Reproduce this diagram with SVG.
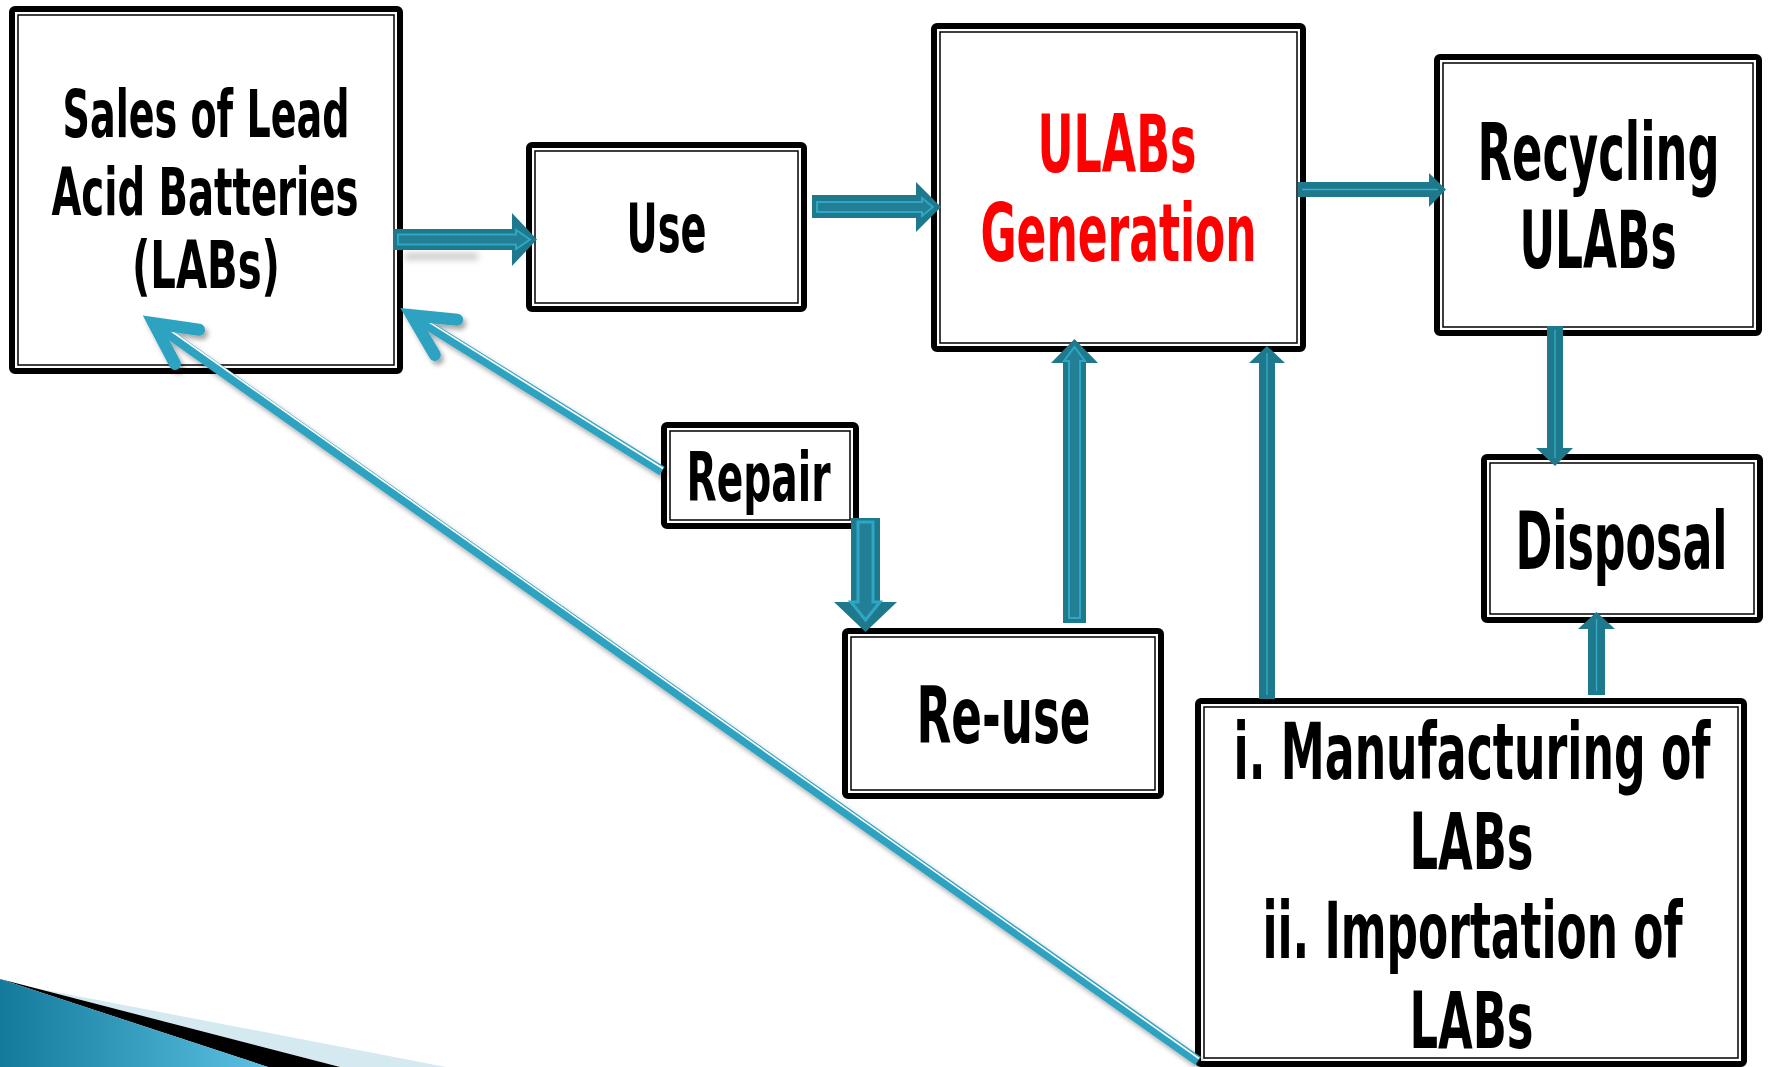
<svg xmlns="http://www.w3.org/2000/svg" width="1769" height="1067" viewBox="0 0 1769 1067">
  <defs>
    <style>
      .box-outer { fill: #ffffff; stroke: #000000; stroke-width: 6; }
      .box-inner { fill: none; stroke: #000000; stroke-width: 1.5; }
      .lbl { font-family: 'Liberation Sans Narrow', 'DejaVu Sans Condensed', 'Liberation Sans', Arial, sans-serif; font-weight: bold; text-anchor: middle; fill: #000000; }
      .red { fill: #ff0000; }
      .blk { fill: #1f798d; }
      .blk-in { fill: #227f95; stroke: #2ea6c4; stroke-width: 2; }
      .thin-in { fill: none; stroke: #35aecb; stroke-width: 1.3; }
      .diag { fill: none; stroke: #2ea3c1; stroke-width: 10; stroke-linecap: butt; }
      .diag-c { fill: none; stroke: #ffffff; stroke-width: 1.6; }
      .head { fill: none; stroke: #2ea3c1; stroke-width: 12; stroke-linecap: round; stroke-linejoin: miter; stroke-miterlimit: 10; }
    </style>
    <linearGradient id="swoosh" x1="0" y1="0" x2="1" y2="0">
      <stop offset="0" stop-color="#137a9b"/>
      <stop offset="1" stop-color="#5cc1e2"/>
    </linearGradient>
    <filter id="shadow" x="-10%" y="-10%" width="120%" height="120%">
      <feDropShadow dx="3" dy="4" stdDeviation="2.5" flood-color="#000000" flood-opacity="0.35"/>
    </filter>
    <filter id="soft" x="-20%" y="-200%" width="140%" height="500%">
      <feGaussianBlur stdDeviation="3"/>
    </filter>
  </defs>

  <rect x="0" y="0" width="1769" height="1067" fill="#ffffff"/>

  <!-- corner swoosh, bottom left -->
  <g id="swoosh-decoration">
    <path d="M30,987 L446,1067 L340,1067 Z" fill="#d5e9f1"/>
    <path d="M0,979 L340,1067 L268,1067 Z" fill="#000000"/>
    <path d="M0,979 L268,1067 L0,1067 Z" fill="url(#swoosh)"/>
  </g>

  <!-- nodes -->
  <g id="node-sales">
    <rect class="box-outer" x="12" y="9" width="388" height="362" rx="3"/>
    <rect class="box-inner" x="18" y="15" width="376" height="350"/>
    <text class="lbl" x="206" y="137" font-size="66" textLength="287" lengthAdjust="spacingAndGlyphs">Sales of Lead</text>
    <text class="lbl" x="205" y="215" font-size="66" textLength="307" lengthAdjust="spacingAndGlyphs">Acid Batteries</text>
    <text class="lbl" x="206" y="288" font-size="66" textLength="148" lengthAdjust="spacingAndGlyphs">(LABs)</text>
  </g>

  <g id="node-use">
    <rect class="box-outer" x="529" y="145" width="275" height="164" rx="3"/>
    <rect class="box-inner" x="535" y="151" width="263" height="152"/>
    <text class="lbl" x="666.5" y="252" font-size="68" textLength="80" lengthAdjust="spacingAndGlyphs">Use</text>
  </g>

  <g id="node-ulabs-generation">
    <rect class="box-outer" x="934" y="26" width="369" height="323" rx="3"/>
    <rect class="box-inner" x="940" y="32" width="357" height="311"/>
    <text class="lbl red" x="1117" y="172" font-size="80" textLength="159" lengthAdjust="spacingAndGlyphs">ULABs</text>
    <text class="lbl red" x="1118.5" y="261" font-size="80" textLength="276" lengthAdjust="spacingAndGlyphs">Generation</text>
  </g>

  <g id="node-recycling">
    <rect class="box-outer" x="1437" y="57" width="322" height="276" rx="3"/>
    <rect class="box-inner" x="1443" y="63" width="310" height="264"/>
    <text class="lbl" x="1598.5" y="180" font-size="80" textLength="242" lengthAdjust="spacingAndGlyphs">Recycling</text>
    <text class="lbl" x="1598" y="268" font-size="80" textLength="157" lengthAdjust="spacingAndGlyphs">ULABs</text>
  </g>

  <g id="node-repair">
    <rect class="box-outer" x="664" y="425" width="192" height="101" rx="3"/>
    <rect class="box-inner" x="670" y="431" width="180" height="89"/>
    <text class="lbl" x="758.5" y="501" font-size="68" textLength="144" lengthAdjust="spacingAndGlyphs">Repair</text>
  </g>

  <g id="node-reuse">
    <rect class="box-outer" x="845" y="631" width="316" height="165" rx="3"/>
    <rect class="box-inner" x="851" y="637" width="304" height="153"/>
    <text class="lbl" x="1003.5" y="743" font-size="78" textLength="174" lengthAdjust="spacingAndGlyphs">Re-use</text>
  </g>

  <g id="node-disposal">
    <rect class="box-outer" x="1484" y="457" width="276" height="163" rx="3"/>
    <rect class="box-inner" x="1490" y="463" width="264" height="151"/>
    <text class="lbl" x="1621.5" y="569" font-size="80" textLength="212" lengthAdjust="spacingAndGlyphs">Disposal</text>
  </g>

  <g id="node-sources">
    <rect class="box-outer" x="1198" y="701" width="546" height="363" rx="3"/>
    <rect class="box-inner" x="1204" y="707" width="534" height="351"/>
    <text class="lbl" x="1472" y="779" font-size="78" textLength="477" lengthAdjust="spacingAndGlyphs">i. Manufacturing of</text>
    <text class="lbl" x="1471.5" y="869" font-size="78" textLength="124" lengthAdjust="spacingAndGlyphs">LABs</text>
    <text class="lbl" x="1472.5" y="958" font-size="78" textLength="420" lengthAdjust="spacingAndGlyphs">ii. Importation of</text>
    <text class="lbl" x="1471.5" y="1048" font-size="78" textLength="124" lengthAdjust="spacingAndGlyphs">LABs</text>
  </g>

  <!-- connectors -->
  <g id="connectors">
    <!-- Sales -> Use -->
    <rect x="405" y="253" width="73" height="7" fill="#8a8a8a" opacity="0.45" filter="url(#soft)"/>
    <path class="blk" d="M393,229 H512 V213 L537,239.5 L512,266 V250 H393 Z"/>
    <path class="blk-in" d="M398,234.5 H516 V230 L530,239.5 L516,249 V244.5 H398 Z"/>

    <!-- Use -> ULABs Generation -->
    <path class="blk" d="M812,195 H916 V182 L941,207 L916,232 V218 H812 Z"/>
    <path class="blk-in" d="M817,202 H922 V198 L933,207 L922,216 V212 H817 Z"/>

    <!-- ULABs Generation -> Recycling -->
    <path class="blk" d="M1298,182 H1429 V173 L1446,189.5 L1429,207 V197 H1298 Z"/>
    <path class="thin-in" d="M1302,189.5 H1438"/>

    <!-- Recycling -> Disposal -->
    <path class="blk" d="M1547,326 V448 H1536 L1555,466 L1573,448 H1563 V326 Z"/>
    <path class="thin-in" d="M1555,330 V458"/>

    <!-- Sources -> ULABs Generation -->
    <path class="blk" d="M1259,699 V363 H1249 L1267,346 L1285,363 H1275 V699 Z"/>
    <path class="thin-in" d="M1267,695 V353"/>

    <!-- Sources -> Disposal -->
    <path class="blk" d="M1588,695 V629 H1578 L1596.5,612 L1615,629 H1605 V695 Z"/>
    <path class="thin-in" d="M1596.5,691 V619"/>

    <!-- Repair -> Re-use -->
    <path class="blk" d="M851,518 V602 H834 L865.5,632 L897,602 H880 V518 Z"/>
    <path class="blk-in" style="stroke-width:3" d="M858,522 V602 H851 L865.5,620 L880,602 H873 V522 Z"/>

    <!-- Re-use -> ULABs Generation -->
    <path class="blk" d="M1063,623 V363 H1051 L1074.5,339 L1098,363 H1086 V623 Z"/>
    <path class="blk-in" d="M1069,618 V361 H1064 L1074.5,347 L1085,361 H1080 V618 Z"/>

    <!-- Repair -> Sales -->
    <g filter="url(#shadow)">
      <path class="diag" d="M662,471 L411.5,315.2"/>
      <path class="diag-c" d="M663,468.5 L425,319.6"/>
      <polyline class="head" points="457.3,319.7 411.5,315.2 434.8,354.9"/>
    </g>

    <!-- Sources -> Sales -->
    <g filter="url(#shadow)">
      <path class="diag" d="M1198,1061 L153.6,323.2"/>
      <path class="diag-c" d="M1199,1058.5 L167,328"/>
      <polyline class="head" points="199.1,329.8 153.6,323.2 175,363.9"/>
    </g>
  </g>
</svg>
